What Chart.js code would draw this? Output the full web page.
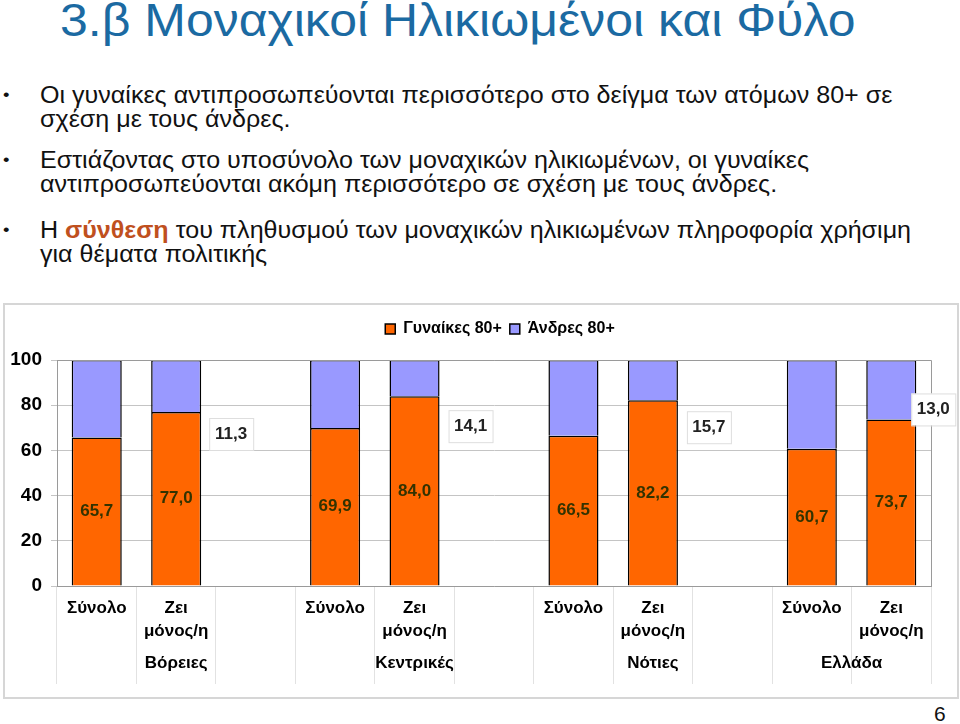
<!DOCTYPE html>
<html lang="el">
<head>
<meta charset="utf-8">
<script src="https://cdn.jsdelivr.net/npm/chart.js@4.4.1/dist/chart.umd.min.js"></script>
<style>
    body { margin: 0; width: 960px; height: 724px; background: #fff; position: relative; overflow: hidden;
           font-family: 'Liberation Sans', Arial, sans-serif; }
    h1 { position: absolute; left: 60px; top: -7px; margin: 0; font-weight: normal; font-size: 46px; color: #1b6aa2;
         white-space: nowrap; transform: scaleX(1.086); transform-origin: 0 0; }
    .bullet { position: absolute; left: 40px; width: 812px; font-size: 23px; line-height: 24px; color: #111;
              transform: scaleX(1.09); transform-origin: 0 0; }
    .bullet::before { content: '•'; position: absolute; left: -34px; top: 0; font-size: 17px; }
    .hl { color: #c0501e; font-weight: bold; }
    #box { position: absolute; left: 3px; top: 303px; width: 952px; height: 392px; border: 2px solid #d6d6d6; }
    #page { position: absolute; left: 934px; top: 702px; font-size: 21px; color: #111; }
</style>
</head>
<body>
<h1>3.β Μοναχικοί Ηλικιωμένοι και Φύλο</h1>
<div class="bullet" style="top:83px">Οι γυναίκες αντιπροσωπεύονται περισσότερο στο δείγμα των ατόμων 80+ σε σχέση με τους άνδρες.</div>
<div class="bullet" style="top:148px">Εστιάζοντας στο υποσύνολο των μοναχικών ηλικιωμένων, οι γυναίκες αντιπροσωπεύονται ακόμη περισσότερο σε σχέση με τους άνδρες.</div>
<div class="bullet" style="top:218px">Η <span class="hl">σύνθεση</span> του πληθυσμού των μοναχικών ηλικιωμένων πληροφορία χρήσιμη για θέματα πολιτικής</div>
<div id="box"><canvas id="sexChart" width="952" height="392"></canvas></div>
<div id="page">6</div>

<script>
// categories (empty ones are the gaps between regions)
const categories = ['Σύνολο', ['Ζει', 'μόνος/η'], '',
                    'Σύνολο', ['Ζει', 'μόνος/η'], '',
                    'Σύνολο', ['Ζει', 'μόνος/η'], '',
                    'Σύνολο', ['Ζει', 'μόνος/η']];
const women = [65.7, 77.0, null, 69.9, 84.0, null, 66.5, 82.2, null, 60.7, 73.7];
const men   = [34.3, 23.0, null, 30.1, 16.0, null, 33.5, 17.8, null, 39.3, 26.3];
const regions = ['Βόρειες', 'Κεντρικές', 'Νότιες', 'Ελλάδα'];
const regionCategories = [[0, 1, 2], [3, 4, 5], [6, 7, 8], [9, 10]];
const aloneShare = [11.3, 14.1, 15.7, 13.0];
const aloneCategories = [1, 4, 7, 10];

const FONT = "'Liberation Sans', Arial, sans-serif";
const fmt = v => v.toFixed(1).replace('.', ',');

// frame, value labels, share boxes and region names
const extras = {
    id: 'extras',
    beforeInit(chart) {
        // a bit more room between legend and plot
        const fit = chart.legend.fit;
        chart.legend.fit = function() {
            fit.call(this);
            this.height += 13;
        };
    },
    afterLayout(chart, args, opts) {
        chart.legend.left += opts.legendShift;
        chart.legend.right += opts.legendShift;
    },
    afterDatasetsDraw(chart, args, opts) {
        const ctx = chart.ctx;
        const area = chart.chartArea;
        const x = chart.scales.x;
        ctx.save();
        ctx.strokeStyle = '#9a9a9a';
        ctx.lineWidth = 1;
        ctx.beginPath();
        ctx.moveTo(area.left, area.top + 0.5);
        ctx.lineTo(area.right + 0.5, area.top + 0.5);
        ctx.lineTo(area.right + 0.5, area.bottom);
        ctx.stroke();

        ctx.font = 'bold 17px ' + FONT;
        ctx.textAlign = 'center';
        ctx.textBaseline = 'middle';
        ctx.fillStyle = '#333300';
        const bars = chart.getDatasetMeta(0).data;
        bars.forEach((bar, i) => {
            if (women[i] == null) return;
            ctx.fillText(fmt(women[i]), bar.x, (bar.y + bar.base) / 2);
        });

        aloneShare.forEach((v, k) => {
            const bar = bars[aloneCategories[k]];
            const off = opts.offsets[k];
            const cx = bar.x + off.dx;
            const cy = bar.y + off.dy;
            ctx.fillStyle = '#fff';
            ctx.fillRect(cx - 22, cy - 16, 44, 32);
            ctx.strokeStyle = '#dedede';
            ctx.strokeRect(cx - 22 + 0.5, cy - 16 + 0.5, 44, 32);
            ctx.fillStyle = '#222';
            ctx.fillText(fmt(v), cx, cy);
        });

        ctx.fillStyle = '#000';
        regions.forEach((name, k) => {
            const idx = regionCategories[k];
            const cx = idx.reduce((s, i) => s + x.getPixelForValue(i), 0) / idx.length;
            ctx.fillText(name, cx, x.top + 77);
        });
        ctx.restore();
    }
};

const sexChart = new Chart(document.getElementById('sexChart').getContext('2d'), {
    type: 'bar',
    data: {
        labels: categories,
        datasets: [{
            label: 'Γυναίκες 80+',
            data: women,
            backgroundColor: '#ff6600',
            borderColor: '#000',
            borderWidth: 1.5,
            categoryPercentage: 1,
            barPercentage: 0.63
        }, {
            label: 'Άνδρες 80+',
            data: men,
            backgroundColor: '#9999ff',
            borderColor: '#000',
            borderWidth: 1.5,
            categoryPercentage: 1,
            barPercentage: 0.63
        }]
    },
    options: {
        responsive: false,
        animation: false,
        layout: { padding: { top: 8, right: 26, left: 0, bottom: 0 } },
        scales: {
            x: {
                stacked: true,
                afterFit: s => { s.height = 111; },
                grid: { offset: true, drawOnChartArea: false, tickLength: 98, color: '#e2e2e2' },
                border: { color: '#9a9a9a' },
                ticks: {
                    autoSkip: false, maxRotation: 0, padding: -87,
                    color: '#000', font: { family: FONT, size: 17, weight: 'bold', lineHeight: 1.35 }
                }
            },
            y: {
                stacked: true,
                min: 0,
                max: 100,
                afterFit: s => { s.width = 52; },
                grid: { color: '#c4c4c4', tickLength: 6, borderDash: [5, 4], tickBorderDash: [] },
                border: { color: '#9a9a9a' },
                ticks: {
                    stepSize: 20, padding: 9,
                    color: '#000', font: { family: FONT, size: 19, weight: 'bold' }
                }
            }
        },
        plugins: {
            legend: {
                position: 'top',
                labels: {
                    boxWidth: 10, boxHeight: 10, padding: 8,
                    color: '#000', font: { family: FONT, size: 16, weight: 'bold' }
                }
            },
            tooltip: { enabled: false },
            extras: {
                legendShift: 32,
                offsets: [{ dx: 55, dy: 22 }, { dx: 56, dy: 30 }, { dx: 56, dy: 27 }, { dx: 42, dy: -10 }]
            }
        }
    },
    plugins: [extras]
});
</script>
</body>
</html>
